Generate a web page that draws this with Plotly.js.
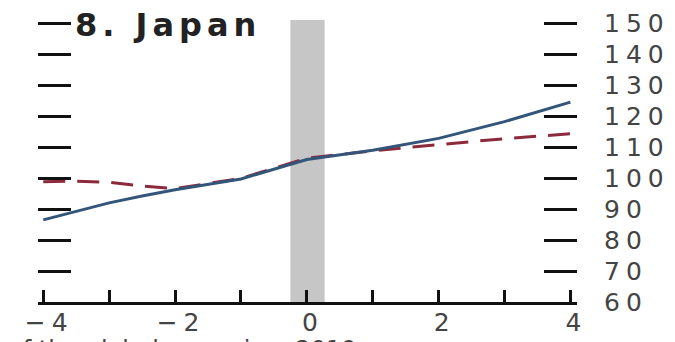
<!DOCTYPE html>
<html>
<head>
<meta charset="utf-8">
<script src="https://cdn.plot.ly/plotly-3.0.1.min.js"></script>
<style>
  html, body { margin: 0; padding: 0; background: #ffffff; }
  #chart { width: 675px; height: 342px; }
  .xtick text, .ytick text { letter-spacing: 6px; }
  .gtitle { letter-spacing: 5px; }
</style>
</head>
<body>
<div id="chart"></div>
<script>
// Horizon (years relative to recession)
const xValues = [-4, -3.5, -3, -2.5, -2, -1, 0, 1, 2, 3, 4];
// Blue solid series
const blueSeries = [86.5, 89.2, 92.0, 94.2, 96.2, 99.7, 106.0, 109.0, 112.8, 118.2, 124.5];
// Red dashed series
const redSeries = [98.8, 99.0, 98.6, 97.4, 96.6, 99.9, 106.4, 108.8, 110.8, 112.7, 114.3];
// Shaded recession band (x range)
const recessionBand = [-0.25, 0.27];
// Tick labels
const yTickValues = [60, 70, 80, 90, 100, 110, 120, 130, 140, 150];
const xTickValues = [-4, -2, 0, 2, 4];
const chartTitle = '8. Japan';
const footText = 'of the global recession, 2019';

const traces = [
  {
    x: xValues, y: redSeries, type: 'scatter', mode: 'lines',
    line: { color: '#8c2a3c', width: 3, dash: '22px,12px' },
    hoverinfo: 'skip'
  },
  {
    x: xValues, y: blueSeries, type: 'scatter', mode: 'lines',
    line: { color: '#34557a', width: 3 },
    hoverinfo: 'skip'
  }
];

const tickFont = { family: 'DejaVu Sans', size: 25, color: '#444444' };

const layout = {
  width: 675, height: 342,
  paper_bgcolor: '#ffffff', plot_bgcolor: '#ffffff',
  showlegend: false,
  margin: { l: 38, r: 98, t: 20, b: 40, autoexpand: false },
  title: {
    text: chartTitle,
    font: { family: 'DejaVu Sans', size: 32, color: '#222222', weight: 'bold' },
    x: 75 / 675, xanchor: 'left', xref: 'container',
    y: 1 - 25 / 342, yanchor: 'middle', yref: 'container'
  },
  xaxis: {
    range: [-4.08, 4.1],
    tickvals: xTickValues,
    ticks: 'inside', ticklen: 12, tickwidth: 3, tickcolor: '#111111',
    minor: { dtick: 1, tick0: 0, ticks: 'inside', ticklen: 12, tickwidth: 3, tickcolor: '#111111' },
    showline: true, linecolor: '#111111', linewidth: 3,
    showgrid: false, zeroline: false,
    tickfont: tickFont,
    ticklabelstandoff: -4,
    ticklabelshift: 6
  },
  yaxis: {
    side: 'right',
    range: [60, 151],
    tickvals: yTickValues,
    ticks: 'inside', ticklen: 33, tickwidth: 3, tickcolor: '#111111',
    mirror: 'ticks',
    showline: false, showgrid: false, zeroline: false,
    tickfont: tickFont,
    ticklabelstandoff: 26
  },
  shapes: [
    {
      type: 'rect', xref: 'x', yref: 'paper',
      x0: recessionBand[0], x1: recessionBand[1], y0: 0, y1: 1,
      fillcolor: '#c6c6c6', line: { width: 0 }, layer: 'below'
    }
  ],
  annotations: [
    {
      text: footText, xref: 'paper', yref: 'paper',
      x: -0.06, xanchor: 'left', y: -0.112, yanchor: 'top',
      showarrow: false,
      font: { family: 'DejaVu Sans', size: 24, color: '#444444' }
    }
  ]
};

Plotly.newPlot('chart', traces, layout, { staticPlot: true, displayModeBar: false });
</script>
</body>
</html>
